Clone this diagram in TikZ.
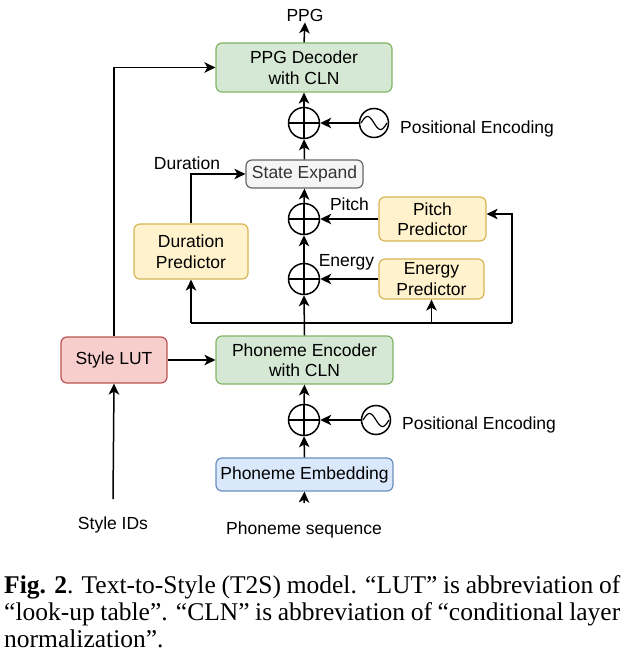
\documentclass[tikz,border=0pt]{standalone}
\usepackage{fontspec}
\setmainfont{Liberation Sans}
\newfontfamily\capfont{Liberation Serif}
\usetikzlibrary{arrows.meta,calc}
\definecolor{gfill}{HTML}{D5E8D4}\definecolor{gline}{HTML}{82B366}
\definecolor{yfill}{HTML}{FFF2CC}\definecolor{yline}{HTML}{D6B656}
\definecolor{rfill}{HTML}{F8CECC}\definecolor{rline}{HTML}{B85450}
\definecolor{bfill}{HTML}{DAE8FC}\definecolor{bline}{HTML}{6C8EBF}
\definecolor{sfill}{HTML}{F5F5F5}\definecolor{sline}{HTML}{666666}
\definecolor{stext}{HTML}{333333}
\newcommand{\dfont}{\fontsize{17.5}{20.5}\selectfont}
\begin{document}
\begin{tikzpicture}[x=1pt,y=-1pt,
  arr/.style={-{Stealth[length=11pt,width=10.5pt,inset=3pt]}, line width=1.5pt},
  wire/.style={line width=1.5pt},
  box/.style={rounded corners=6pt, line width=1.2pt, align=center, inner sep=0pt, font=\dfont},
  gbox/.style={box, fill=gfill, draw=gline},
  ybox/.style={box, fill=yfill, draw=yline},
  rbox/.style={box, fill=rfill, draw=rline},
  bbox/.style={box, fill=bfill, draw=bline},
  sbox/.style={box, fill=sfill, draw=sline, text=stext},
  plus/.style={circle, draw, line width=1.5pt, minimum size=31pt, inner sep=0pt},
  sine/.style={circle, draw, line width=1.5pt, minimum size=29pt, inner sep=0pt},
  lbl/.style={font=\dfont, inner sep=0pt},
  captxt/.style={font=\capfont\fontsize{25.5}{27.3}\selectfont, inner sep=0pt, anchor=base west}
]
\useasboundingbox (0,0) rectangle (625,666);

% boxes
\node[gbox, minimum width=176pt, minimum height=49pt] (dec) at (304,67.5) {PPG Decoder\\with CLN};
\node[sbox, minimum width=117pt, minimum height=28pt] (se) at (304.5,174) {State Expand};
\node[ybox, minimum width=107pt, minimum height=44pt] (pitch) at (432.5,219) {Pitch\\Predictor};
\node[ybox, minimum width=105pt, minimum height=40pt] (energy) at (431.5,279) {Energy\\Predictor};
\node[ybox, minimum width=114pt, minimum height=55pt] (dur) at (191,251.5) {Duration\\Predictor};
\node[rbox, minimum width=106pt, minimum height=46pt] (lut) at (114,360) {Style LUT};
\node[gbox, minimum width=177pt, minimum height=48pt] (enc) at (304.5,360) {Phoneme Encoder\\with CLN};
\node[bbox, minimum width=177pt, minimum height=33pt] (emb) at (304.5,474.5) {Phoneme Embedding};

% adders
\node[plus] (p1) at (304,123) {};
\node[plus] (p2) at (304,219) {};
\node[plus] (p3) at (304,279) {};
\node[plus] (p4) at (304,420) {};
\foreach \p in {p1,p2,p3,p4}{\draw[line width=1.5pt] (\p.north)--(\p.south) (\p.west)--(\p.east);}

% sinusoids
\node[sine] (s1) at (374,123) {};
\node[sine] (s2) at (376,420) {};
\foreach \s in {s1,s2}{\draw[line width=1.2pt, shift={(\s.center)}] plot[domain=-1:1, samples=40, smooth] ({13*\x},{-6.5*sin(180*(\x+1))});}

% labels
\node[lbl, anchor=base] (ppg) at (305,22) {PPG};
\node[lbl, anchor=base west] (pe1) at (400,133) {Positional Encoding};
\node[lbl, anchor=base west] (pe2) at (402,429) {Positional Encoding};
\node[lbl, anchor=base] (ldur) at (187,169) {Duration};
\node[lbl, anchor=base] (lpitch) at (349.5,210) {Pitch};
\node[lbl, anchor=base] (lenergy) at (346.5,266) {Energy};
\node[lbl, anchor=base] (ids) at (113,529) {Style IDs};
\node[lbl, anchor=base] (seq) at (304,534) {Phoneme sequence};

\coordinate (idsTop) at (113,499);
\coordinate (seqTop) at (304,503);
\coordinate (busL) at (191,323);
\coordinate (busR) at (512,323);
\coordinate (busE) at (431.5,323);

% connectors
\draw[arr] (dec.north) -- (ppg.south);
\draw[arr] (p1.north) -- (dec.south);
\draw[arr] (s1.west) -- (p1.east);
\draw[arr] (se.north) -- (p1.south);
\draw[arr] (p2.north) -- (se.south);
\draw[arr] (pitch.west) -- (p2.east);
\draw[arr] (p3.north) -- (p2.south);
\draw[arr] (energy.west) -- (p3.east);
\draw[arr] (enc.north) -- (p3.south);
\draw[wire] (busL) -- (busR);
\draw[arr] (busL) -- (dur.south);
\draw[arr] (busE) -- (energy.south);
\draw[arr] (busR) |- ([yshift=5pt]pitch.east);
\draw[arr] (dur.north) |- (se.west);
\draw[arr] (lut.north) |- (dec.west);
\draw[arr] (lut.east) -- (enc.west);
\draw[arr] (idsTop) -- (lut.south);
\draw[arr] (seqTop) -- (emb.south);
\draw[arr] (emb.north) -- (p4.south);
\draw[arr] (p4.north) -- (enc.south);
\draw[arr] (s2.west) -- (p4.east);

% caption
\node[captxt] (c1) at (4,593) {\makebox[616pt][s]{\textbf{Fig. 2}. Text-to-Style (T2S) model. “LUT” is abbreviation of}};
\node[captxt] (c2) at (4,620) {\makebox[616pt][s]{“look-up table”. “CLN” is abbreviation of “conditional layer}};
\node[captxt] (c3) at (4,647) {normalization”.};
\end{tikzpicture}
\end{document}
